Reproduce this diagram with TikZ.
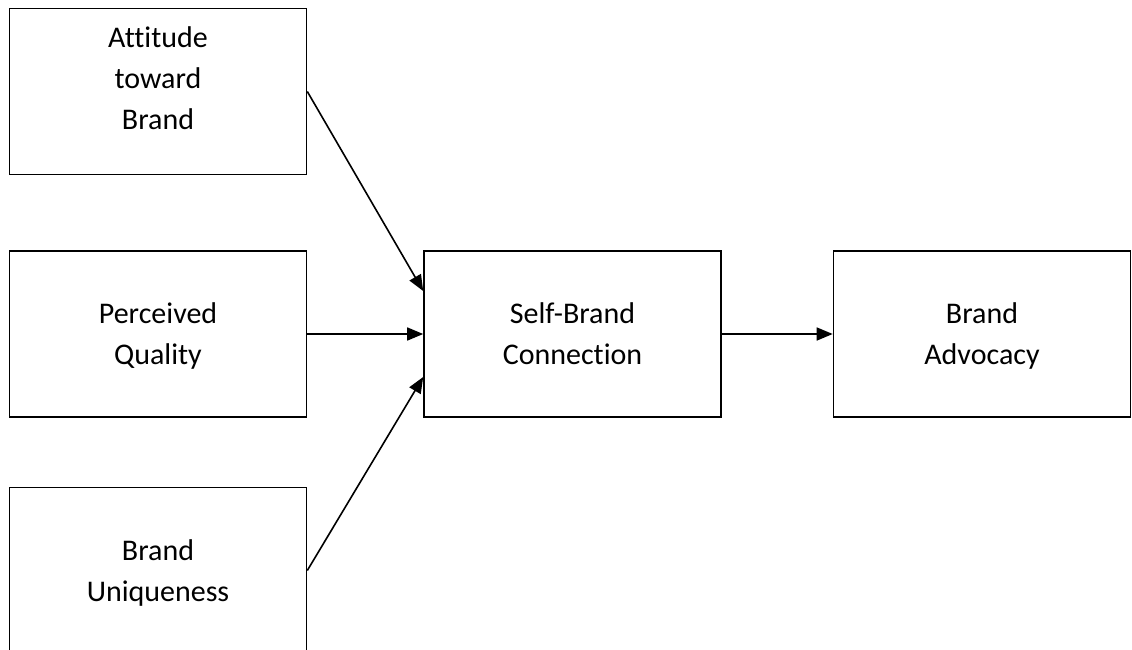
\documentclass[tikz,border=0pt]{standalone}
\usepackage{fontspec}
\setmainfont{Carlito}[Ligatures=NoCommon]
\usepackage{tikz}
\usetikzlibrary{positioning, arrows.meta}
\tikzstyle{factor} = [rectangle, minimum width=297pt, minimum height=166pt, text centered, align=center, text depth=0pt, draw=black, line width=1.6pt, font=\fontsize{30}{41}\selectfont]
\tikzstyle{arrow} = [line width=1.6pt, -{Triangle[length=16pt, width=13pt]}]

\begin{document}
\begin{tikzpicture}[node distance=242.5pt]
        \clip (0pt,0pt) rectangle (1132pt,-649pt);
        \node (attitude) [factor, text depth=26pt] at (158pt,-91.5pt) {Attitude\\toward\\Brand};
        \node (perceived) [factor, below of=attitude] {Perceived\\Quality};
        \node (uniqueness) [factor, below of=perceived, yshift=6pt] {Brand\\Uniqueness};
        \node (selfbrand) [factor, right of=perceived, xshift=172pt] {Self-Brand\\Connection};
        \node (advocacy) [factor, right of=selfbrand, xshift=167pt] {Brand\\Advocacy};

        \draw [arrow] (attitude.east) -- ([yshift=43pt]selfbrand.west);
        \draw [arrow] (perceived) -- (selfbrand);
        \draw [arrow] (uniqueness.east) -- ([yshift=-43pt]selfbrand.west);
        \draw [arrow] (selfbrand) -- (advocacy);
        \end{tikzpicture}
\end{document}
